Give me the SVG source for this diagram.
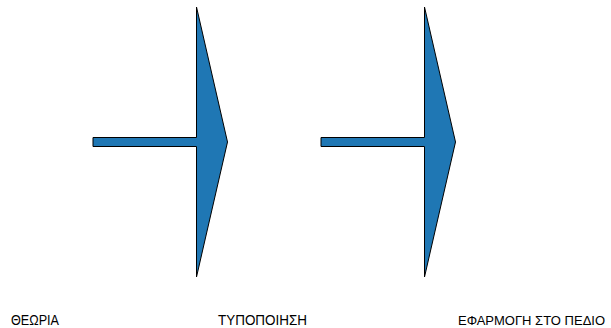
<svg xmlns="http://www.w3.org/2000/svg" width="611" height="328" viewBox="0 0 611 328">
<style>
.arrow{fill:#1f77b4;stroke:#000;stroke-width:1;stroke-linejoin:miter}
.lbl{font-family:"Liberation Sans","Noto Sans",sans-serif;font-size:14px;fill:#000}
</style>
<rect width="611" height="328" fill="#fff"/>
<g id="connectors">
<g id="arrow1">
<path class="arrow" d="M93,137.5 H196.5 V7 L227.5,142 L196.5,277 V146.5 H93 Z"/>
</g>
<g id="arrow2">
<path class="arrow" d="M321,137.5 H424.5 V7 L455.5,142 L424.5,277 V146.5 H321 Z"/>
</g>
</g>
<g id="node-theoria"><text class="lbl" x="11" y="325" textLength="48" lengthAdjust="spacingAndGlyphs">ΘΕΩΡΙΑ</text></g>
<g id="node-typopoiisi"><text class="lbl" x="218" y="325" textLength="89" lengthAdjust="spacingAndGlyphs">ΤΥΠΟΠΟΙΗΣΗ</text></g>
<g id="node-efarmogi"><text class="lbl" x="458" y="325" style="font-size:13px">ΕΦΑΡΜΟΓΗ ΣΤΟ ΠΕΔΙΟ</text></g>
</svg>
